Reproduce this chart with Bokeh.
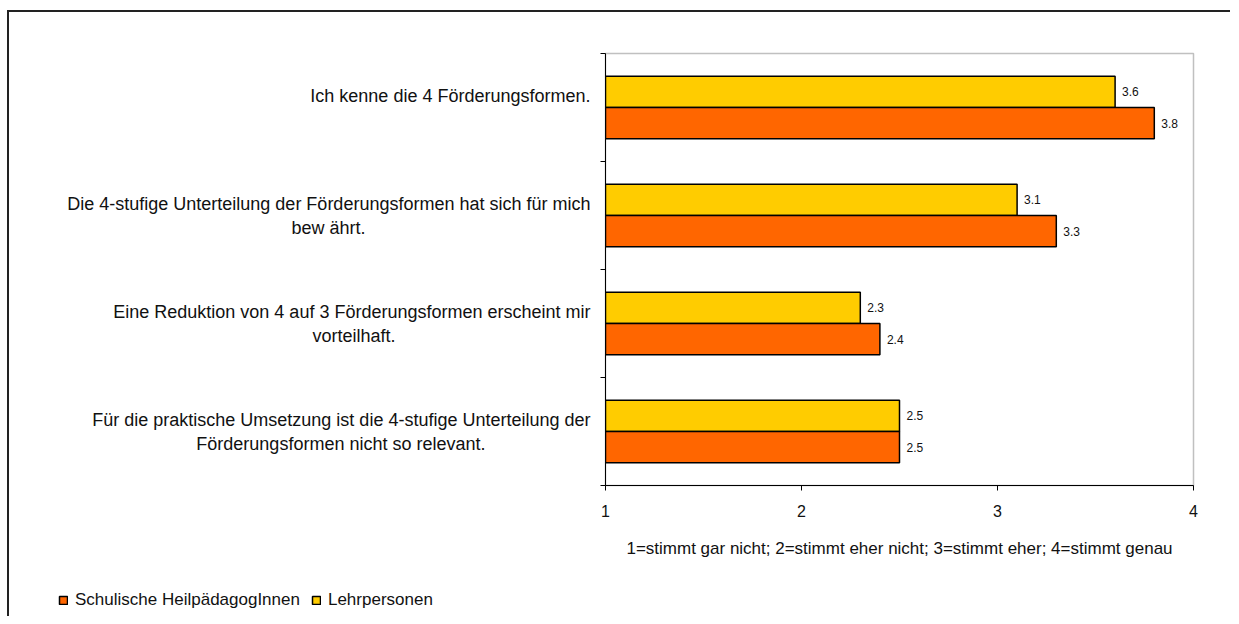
from bokeh.plotting import figure
from bokeh.models import (Range1d, FixedTicker, Legend, LegendItem, ColumnDataSource)
from bokeh.embed import file_html
from bokeh.resources import INLINE
from bokeh.core.properties import value

category_lines = [
    ["Ich kenne die 4 Förderungsformen.", " "],
    ["Die 4-stufige Unterteilung der Förderungsformen hat sich für mich", "bew ährt."],
    ["Eine Reduktion von 4 auf 3 Förderungsformen erscheint mir", "vorteilhaft."],
    ["Für die praktische Umsetzung ist die 4-stufige Unterteilung der",
     "Förderungsformen nicht so relevant."],
]
series_names = ["Schulische HeilpädagogInnen", "Lehrpersonen"]
heilpaed = [3.8, 3.3, 2.4, 2.5]
lehr = [3.6, 3.1, 2.3, 2.5]
x_ticks = [1, 2, 3, 4]
x_title = "1=stimmt gar nicht; 2=stimmt eher nicht; 3=stimmt eher; 4=stimmt genau"

FONT = "Liberation Sans"
ORANGE = "#FF6600"
YELLOW = "#FFCC00"

# Arial / Liberation Sans advance widths (per 1000 em), used to centre wrapped lines
_W = {" ": 278, ".": 278, "-": 333, ";": 278, "=": 584, "\u00a0": 278}
_W.update({d: 556 for d in "0123456789"})
_W.update(dict(zip("ABCDEFGHIJKLMNOPQRSTUVWXYZ",
                   [667, 667, 722, 722, 667, 611, 778, 722, 278, 500, 667, 556, 833,
                    722, 778, 667, 778, 722, 667, 611, 722, 667, 944, 667, 667, 611])))
_W.update(dict(zip("abcdefghijklmnopqrstuvwxyz",
                   [556, 556, 500, 556, 556, 278, 556, 556, 222, 222, 500, 222, 833,
                    556, 556, 556, 556, 333, 500, 278, 556, 500, 722, 500, 500, 500])))
_W.update({"ä": 556, "ö": 556, "ü": 556, "Ä": 667, "Ö": 778, "Ü": 722, "ß": 611})


def text_w(s):
    return sum(_W.get(ch, 556) for ch in s)


def centred(lines):
    widest = max(text_w(l) for l in lines)
    out = []
    for l in lines:
        pad = int(round((widest - text_w(l)) / 2 / _W["\u00a0"]))
        out.append(l + "\u00a0" * pad if l.strip() else l)
    return "\n".join(out)


categories = [centred(ls) for ls in category_lines]

n = len(categories)
centers = [2 * i + 1 for i in range(n)]
bounds = [2 * i for i in range(n + 1)]
bar_h = 0.58

p = figure(width=1223, height=570, output_backend="svg", toolbar_location=None,
           x_range=Range1d(1, 4), y_range=Range1d(2 * n, 0),
           min_border_left=596, min_border_right=39, min_border_top=41,
           min_border_bottom=97)
p.margin = (10, 0, 0, 7)
p.styles = {"border-left": "2px solid #222", "border-top": "2px solid #222"}
p.grid.visible = False
p.outline_line_color = "#c0c0c0"
p.outline_line_width = 1.5
p.background_fill_color = "white"
p.border_fill_color = "white"

src_y = ColumnDataSource(dict(y=[c - bar_h / 2 for c in centers], v=lehr,
                              t=[f"{v:.1f}" for v in lehr]))
src_o = ColumnDataSource(dict(y=[c + bar_h / 2 for c in centers], v=heilpaed,
                              t=[f"{v:.1f}" for v in heilpaed]))

r_y = p.hbar(y="y", left=1, right="v", height=bar_h, source=src_y,
             fill_color=YELLOW, line_color="black", line_width=1.5)
r_o = p.hbar(y="y", left=1, right="v", height=bar_h, source=src_o,
             fill_color=ORANGE, line_color="black", line_width=1.5)

for s in (src_y, src_o):
    p.text(x="v", y="y", text="t", source=s, x_offset=7, text_baseline="middle",
           text_align="left", text_font=value(FONT), text_font_size="12px",
           text_color="#111")

# x axis
xa = p.xaxis[0]
xa.ticker = FixedTicker(ticks=x_ticks)
xa.minor_tick_line_color = None
xa.major_tick_in = 0
xa.major_tick_out = 5
xa.axis_line_color = "black"
xa.major_label_text_font = FONT
xa.major_label_text_font_size = "16px"
xa.major_label_text_color = "#111"
xa.major_label_standoff = 14
xa.axis_label = x_title
xa.axis_label_text_font = FONT
xa.axis_label_text_font_size = "17px"
xa.axis_label_text_font_style = "normal"
xa.axis_label_text_color = "#111"
xa.axis_label_standoff = 19

# y axis
ya = p.yaxis[0]
ya.ticker = FixedTicker(ticks=centers, minor_ticks=bounds)
ya.major_tick_in = 0
ya.major_tick_out = 0
ya.minor_tick_in = 0
ya.minor_tick_out = 5
ya.minor_tick_line_color = "black"
ya.axis_line_color = "black"
ya.major_label_overrides = {c: lab for c, lab in zip(centers, categories)}
ya.major_label_text_font = FONT
ya.major_label_text_font_size = "18px"
ya.major_label_text_color = "#111"
ya.major_label_standoff = 10

# legend strip below the chart (separate root so its frame spans the full width)
lf = figure(width=1223, height=36, output_backend="svg", toolbar_location=None,
            x_range=Range1d(0, 1), y_range=Range1d(0, 1), min_border=0)
lf.margin = (0, 0, 0, 7)
lf.styles = {"border-left": "2px solid #222"}
lf.axis.visible = False
lf.grid.visible = False
lf.outline_line_color = None
lf.border_fill_color = "white"
lf.background_fill_color = "white"
colors = [ORANGE, YELLOW]
proxies = [lf.hbar(y=[0.5], left=[0], right=[0], height=0.1, fill_color=c,
                   line_color="black", line_width=1.5, visible=False)
           for c in colors]
legend = Legend(items=[LegendItem(label=nm, renderers=[r])
                       for nm, r in zip(series_names, proxies)],
                orientation="horizontal", location=(47, 4),
                glyph_width=10, glyph_height=10, label_standoff=7, spacing=11,
                padding=2, margin=0, label_text_font=FONT,
                label_text_font_size="17px", label_text_color="#111",
                border_line_alpha=0, background_fill_alpha=0)
lf.add_layout(legend, "center")

open("out.html", "w").write(file_html([p, lf], INLINE))
